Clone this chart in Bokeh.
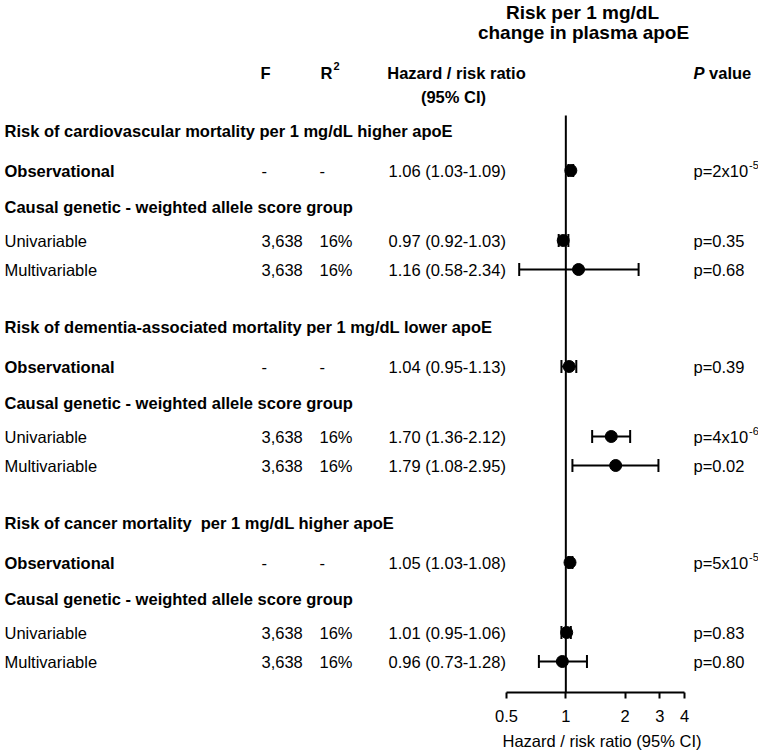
import math
from bokeh.plotting import figure
from bokeh.models import (Range1d, LogScale, LogAxis, Whisker, Title,
                          TeeHead, ColumnDataSource, FixedTicker)
from bokeh.core.properties import value
from bokeh.embed import file_html
from bokeh.resources import INLINE

# ---------------- data ----------------
sections = [
    "Risk of cardiovascular mortality per 1 mg/dL higher apoE",
    "Risk of dementia-associated mortality per 1 mg/dL lower apoE",
    "Risk of cancer mortality \u00a0per 1 mg/dL higher apoE",
]
row_names = ["Observational", "Causal genetic - weighted allele score group",
             "Univariable", "Multivariable"]
row_bold = [True, True, False, False]
data_rows = [0, 2, 3]          # rows carrying an estimate
f_values = ["-", "3,638", "3,638"]
r2_values = ["-", "16%", "16%"]
hr = [[1.06, 0.97, 1.16], [1.04, 1.70, 1.79], [1.05, 1.01, 0.96]]
lo = [[1.03, 0.92, 0.58], [0.95, 1.36, 1.08], [1.03, 0.95, 0.73]]
hi = [[1.09, 1.03, 2.34], [1.13, 2.12, 2.95], [1.08, 1.06, 1.28]]
p_base = [["p=2x10", "p=0.35", "p=0.68"],
          ["p=0.39", "p=4x10", "p=0.02"],
          ["p=5x10", "p=0.83", "p=0.80"]]
p_exp = [["-5", "", ""], ["", "-6", ""], ["-5", "", ""]]
ticks = [0.5, 1, 2, 3, 4]
tick_labels = ["0.5", "1", "2", "3", "4"]
ref_value = 1
title_lines = ["Risk per 1 mg/dL", "change in plasma apoE"]
x_title = "Hazard / risk ratio (95% CI)"

# ---------------- layout ----------------
FONT = "Liberation Sans"
FS = "16.5px"
W, H = 758, 755
AXIS_Y = 692                       # page y of the x axis line
FOREST_L, FOREST_R = 506, 684      # page x where 0.5 and 4 fall
LINE_TOP = 115
section_top = 130
section_step = 196
row_offsets = [40, 76, 110, 139]

# rough Arial advance widths (em) for placing superscripts
ADV = {"p": .556, "=": .584, "x": .5, ".": .278, "R": .722}
for d in "0123456789":
    ADV[d] = .556


def text_w(s, px):
    return sum(ADV.get(c, .556) for c in s) * px


p = figure(width=W, height=H, x_range=Range1d(0, W), y_range=Range1d(AXIS_Y, 0),
           output_backend="svg", toolbar_location=None,
           x_axis_location=None, y_axis_location=None,
           min_border_left=0, min_border_right=0, min_border_top=0,
           min_border_bottom=H - AXIS_Y)
p.outline_line_color = None
p.xgrid.visible = False
p.ygrid.visible = False
p.background_fill_color = "white"
p.border_fill_color = "white"

# log range for the forest panel so that ticks[0] and ticks[-1] land on the panel edges
lo_t, hi_t = ticks[0], ticks[-1]
k = (FOREST_R - FOREST_L) / math.log(hi_t / lo_t)
p.extra_x_ranges = {"hr": Range1d(lo_t * math.exp(-FOREST_L / k),
                                  hi_t * math.exp((W - FOREST_R) / k))}
p.extra_x_scales = {"hr": LogScale()}

ax = LogAxis(x_range_name="hr", bounds=(lo_t, hi_t))
ax.ticker = FixedTicker(ticks=ticks, minor_ticks=[])
ax.major_label_overrides = {t: l for t, l in zip(ticks, tick_labels)}
ax.axis_line_width = 2
ax.axis_line_color = "black"
ax.major_tick_line_width = 2
ax.major_tick_line_color = "black"
ax.major_tick_in = 0
ax.major_tick_out = 6
ax.minor_tick_line_color = None
ax.major_label_text_font = FONT
ax.major_label_text_font_size = FS
ax.major_label_text_color = "black"
ax.major_label_standoff = 11
p.add_layout(ax, "below")

# axis title, placed under the forest panel only
p.add_layout(Title(text=x_title, align="left", offset=502, standoff=10,
                   text_font=FONT, text_font_size=FS, text_font_style="normal",
                   text_color="black"), "below")

# reference line at ratio 1
p.segment(x0=[ref_value], x1=[ref_value], y0=[LINE_TOP], y1=[AXIS_Y],
          x_range_name="hr", line_color="black", line_width=2)

texts = {}


def lab(x, y, text, size=FS, style="normal", align="left"):
    key = (size, style, align)
    d = texts.setdefault(key, dict(x=[], y=[], t=[]))
    d["x"].append(x)
    d["y"].append(y)
    d["t"].append(text)


# titles and headers
lab(582, 12, title_lines[0], "19px", "bold", "center")
lab(583, 32, title_lines[1], "19px", "bold", "center")
lab(265, 72, "F", FS, "bold", "center")
lab(320, 72, "R", FS, "bold")
lab(320 + text_w("R", 16.5) + 1, 65, "2", "11px", "bold")
lab(456, 72, "Hazard / risk ratio", FS, "bold", "center")
lab(453, 96, "(95% CI)", FS, "bold", "center")
lab(693, 72, "P", FS, "bold italic")
lab(693 + (0.667 + 0.278) * 16.5, 72, "value", FS, "bold")

ys, xs, los, his = [], [], [], []
for g, title in enumerate(sections):
    top = section_top + section_step * g
    lab(4, top, title, FS, "bold")
    for r, name in enumerate(row_names):
        lab(4, top + row_offsets[r], name, FS, "bold" if row_bold[r] else "normal")
    for j, r in enumerate(data_rows):
        y = top + row_offsets[r]
        lab(261, y, f_values[j])
        lab(319, y, r2_values[j])
        lab(388, y, f"{hr[g][j]:.2f} ({lo[g][j]:.2f}-{hi[g][j]:.2f})")
        lab(693, y, p_base[g][j])
        if p_exp[g][j]:
            lab(693 + text_w(p_base[g][j], 16.5) + 1, y - 6, p_exp[g][j], "11px")
        ys.append(y)
        xs.append(hr[g][j])
        los.append(lo[g][j])
        his.append(hi[g][j])

for (size, style, align), d in texts.items():
    p.text(x=d["x"], y=d["y"], text=d["t"], text_font=value(FONT),
           text_font_size=size, text_font_style=style, text_align=align,
           text_baseline="middle", text_color="black")

src = ColumnDataSource(dict(y=ys, x=xs, lo=los, hi=his))
p.add_layout(Whisker(source=src, base="y", lower="lo", upper="hi",
                     dimension="width", x_range_name="hr",
                     line_width=2, line_color="black",
                     lower_head=TeeHead(size=13, line_width=2, line_color="black"),
                     upper_head=TeeHead(size=13, line_width=2, line_color="black")))
p.scatter("x", "y", source=src, size=12, fill_color="black",
          line_color="black", x_range_name="hr")

open("out.html", "w").write(file_html(p, INLINE))
